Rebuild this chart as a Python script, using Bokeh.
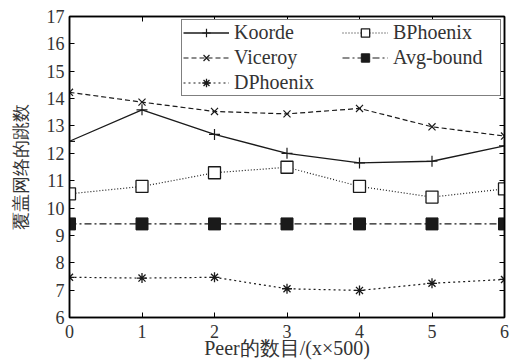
from bokeh.plotting import figure
from bokeh.models import LinearAxis, Range1d, FixedTicker, Legend, LegendItem
from bokeh.embed import file_html
from bokeh.resources import INLINE

peers = [0, 1, 2, 3, 4, 5, 6]
koorde = [12.44, 13.59, 12.69, 12.0, 11.65, 11.71, 12.27]
viceroy = [14.23, 13.87, 13.53, 13.44, 13.64, 12.97, 12.63]
dphoenix = [7.47, 7.44, 7.47, 7.05, 6.99, 7.25, 7.39]
bphoenix = [10.52, 10.79, 11.29, 11.49, 10.79, 10.4, 10.7]
avgbound = [9.42, 9.42, 9.42, 9.42, 9.42, 9.42, 9.42]
x_ticks = [0, 1, 2, 3, 4, 5, 6]
y_ticks = [6, 7, 8, 9, 10, 11, 12, 13, 14, 15, 16, 17]

FONT = "Liberation Serif"
TXT = "#333333"

p = figure(width=517, height=361, output_backend="svg", toolbar_location=None,
           x_range=Range1d(0, 6), y_range=Range1d(6, 17),
           min_border_left=69, min_border_right=13, min_border_top=16, min_border_bottom=44)
p.grid.visible = False
p.outline_line_color = "black"
p.outline_line_width = 1.5
p.background_fill_color = "white"
p.border_fill_color = "white"

top_ax = LinearAxis()
right_ax = LinearAxis()
p.add_layout(right_ax, "right")
p.add_layout(top_ax, "above")

def style_axis(ax, ticks, labels=True):
    ax.ticker = FixedTicker(ticks=ticks)
    ax.major_tick_in = 5
    ax.major_tick_out = 0
    ax.minor_tick_line_color = None
    ax.axis_line_color = "black"
    ax.axis_line_width = 1.5
    ax.major_tick_line_color = "black"
    ax.major_tick_line_width = 1
    ax.major_label_text_font = FONT
    ax.major_label_text_font_size = "18px"
    ax.major_label_text_color = TXT
    ax.major_label_standoff = 5
    ax.axis_label_text_font = FONT
    ax.axis_label_text_font_style = "normal"
    ax.axis_label_text_font_size = "20px"
    ax.axis_label_text_color = TXT
    if not labels:
        ax.major_label_overrides = {t: "" for t in ticks}
        ax.major_label_standoff = 0

style_axis(p.below[0], x_ticks)
style_axis(p.left[0], y_ticks)
style_axis(top_ax, x_ticks, False)
style_axis(right_ax, y_ticks, False)

p.below[0].axis_label = "Peer的数目/(x×500)"
p.left[0].axis_label = "覆盖网络的跳数"
p.left[0].axis_label_text_font_size = "18px"
p.below[0].major_label_standoff = 7
p.below[0].axis_label_standoff = -4
p.left[0].axis_label_standoff = 13

c = "#1a1a1a"
l1 = p.line(peers, koorde, line_color=c, line_width=1.3)
m1 = p.scatter(peers, koorde, marker="cross", size=11, line_color=c, line_width=1.2)
l2 = p.line(peers, viceroy, line_color=c, line_width=1.2, line_dash="5 3")
m2 = p.scatter(peers, viceroy, marker="x", size=10, line_color=c, line_width=1.2)
l3 = p.line(peers, dphoenix, line_color=c, line_width=1.2, line_dash="2 3")
m3 = p.scatter(peers, dphoenix, marker="asterisk", size=10, line_color=c, line_width=1.3)
l4 = p.line(peers, bphoenix, line_color=c, line_width=1.2, line_dash="1 2")
m4 = p.scatter(peers, bphoenix, marker="square", size=12, line_color=c, fill_color="white", line_width=1.3)
l5 = p.line(peers, avgbound, line_color=c, line_width=1.2, line_dash="7 3 2 3")
m5 = p.scatter(peers, avgbound, marker="square", size=12, line_color=c, fill_color=c)

legend = Legend(items=[
    LegendItem(label="Koorde", renderers=[l1, m1]),
    LegendItem(label="Viceroy", renderers=[l2, m2]),
    LegendItem(label="DPhoenix", renderers=[l3, m3]),
    LegendItem(label="BPhoenix", renderers=[l4, m4]),
    LegendItem(label="Avg-bound", renderers=[l5, m5]),
], location="top_right", orientation="vertical", nrows=3)
legend.label_text_font = FONT
legend.label_text_font_size = "20px"
legend.label_text_color = TXT
legend.border_line_color = "black"
legend.border_line_width = 1.2
legend.glyph_width = 46
legend.glyph_height = 21
legend.label_height = 21
legend.label_width = 106
legend.spacing = 2
legend.padding = 1
legend.margin = 3
legend.label_standoff = 5
legend.background_fill_alpha = 1
p.add_layout(legend)

open("out.html", "w").write(file_html(p, INLINE))
